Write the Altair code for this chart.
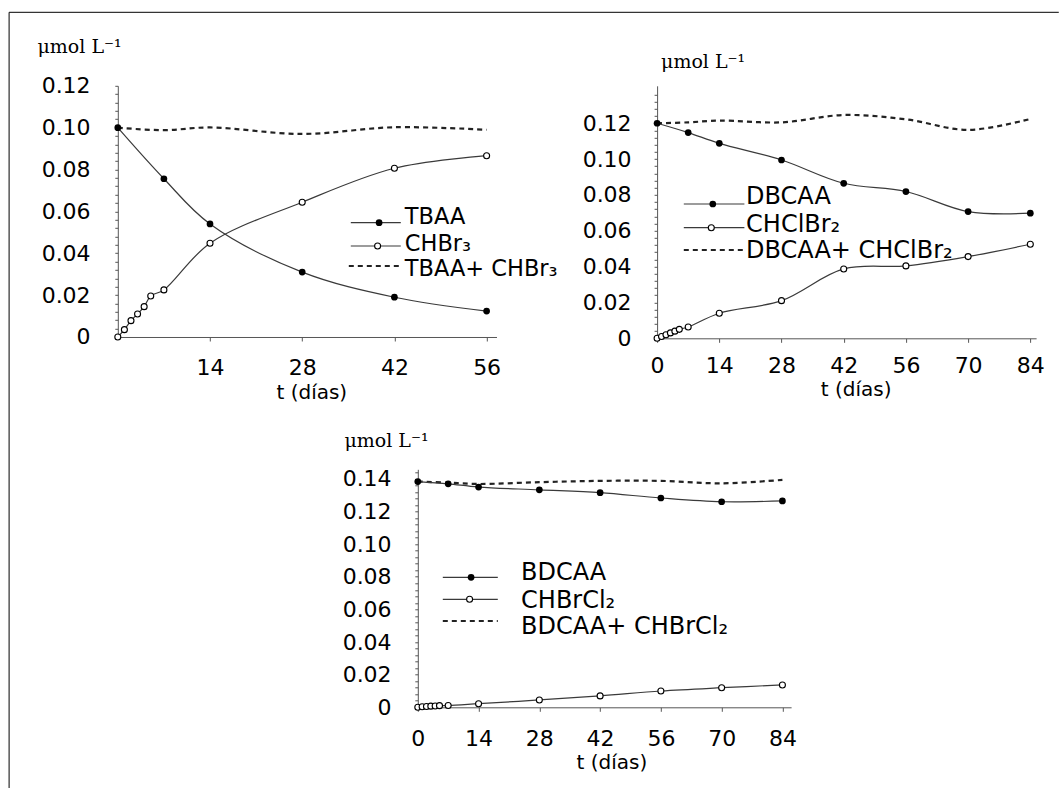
import altair as alt
import pandas as pd

# ---------------- data ----------------
# Panel 1: TBAA / CHBr3
days_tbaa = [0, 7, 14, 28, 42, 56]
tbaa = [0.100, 0.0756, 0.054, 0.031, 0.019, 0.0124]
days_chbr3 = [0, 1, 2, 3, 4, 5, 7, 14, 28, 42, 56]
chbr3 = [0.0, 0.0035, 0.0078, 0.011, 0.0145, 0.0196, 0.0225, 0.0448, 0.0644, 0.0806, 0.0866]
days_sum1 = [0, 7, 14, 28, 42, 56]
sum1 = [0.100, 0.0988, 0.1001, 0.0970, 0.1002, 0.0990]

# Panel 2: DBCAA / CHClBr2
days_dbcaa = [0, 7, 14, 28, 42, 56, 70, 84]
dbcaa = [0.120, 0.1148, 0.1088, 0.0995, 0.0865, 0.0819, 0.0707, 0.0698]
days_chclbr2 = [0, 1, 2, 3, 4, 5, 7, 14, 28, 42, 56, 70, 84]
chclbr2 = [0.0, 0.001, 0.002, 0.003, 0.004, 0.005, 0.0063, 0.014, 0.021, 0.0387, 0.0404, 0.0456, 0.0525]
days_sum2 = [0, 7, 14, 28, 42, 56, 70, 84]
sum2 = [0.120, 0.1205, 0.1215, 0.1205, 0.1246, 0.1222, 0.1163, 0.1224]

# Panel 3: BDCAA / CHBrCl2
days_bdcaa = [0, 7, 14, 28, 42, 56, 70, 84]
bdcaa = [0.1384, 0.137, 0.135, 0.1333, 0.1316, 0.1283, 0.126, 0.1265]
days_chbrcl2 = [0, 1, 2, 3, 4, 5, 7, 14, 28, 42, 56, 70, 84]
chbrcl2 = [0.0, 0.0003, 0.0005, 0.0007, 0.0008, 0.001, 0.0011, 0.0022, 0.0045, 0.007, 0.010, 0.012, 0.0137]
days_sum3 = [0, 7, 14, 28, 42, 56, 70, 84]
sum3 = [0.1384, 0.1377, 0.1369, 0.138, 0.1388, 0.1388, 0.1373, 0.1394]

names1 = ["TBAA", "CHBr\u2083", "TBAA+ CHBr\u2083"]
names2 = ["DBCAA", "CHClBr\u2082", "DBCAA+ CHClBr\u2082"]
names3 = ["BDCAA", "CHBrCl\u2082", "BDCAA+ CHBrCl\u2082"]
xticks1 = [14, 28, 42, 56]
xticks23 = [0, 14, 28, 42, 56, 70, 84]
unit_title = "\u03bcmol L\u207b\u00b9"
x_title = "t (d\u00edas)"

LINE_COLOR = "#3a3a3a"
SANS = "DejaVu Sans"
SERIF = "DejaVu Serif"

LABEL_EXPR = ("abs(datum.value) < 1e-9 ? '0' : "
              "(round(datum.value * 1000) % 20 == 0 ? format(datum.value, '.2f') : '')")

one = pd.DataFrame({"k": [0]})


def panel(d_acid, acid, d_thm, thm, d_sum, summ, names, xdom, ydom, ytick_max, w, h,
          xticks, ypad, xpad, leg, unit_pos, xt_pos, frame=None):
    acid_df = pd.DataFrame({"t": d_acid, "v": acid})
    thm_df = pd.DataFrame({"t": d_thm, "v": thm})
    sum_df = pd.DataFrame({"t": d_sum, "v": summ})
    n = int(ytick_max / 0.004 + 1e-9)
    yticks = [round(i * 0.004, 3) for i in range(n + 1)]

    x = alt.X("t:Q", scale=alt.Scale(domain=xdom, nice=False, zero=False),
              axis=alt.Axis(values=xticks, title=None, grid=False, tickSize=4,
                            labelPadding=xpad, format="d", labelFlush=False,
                            labelOverlap=False))
    y = alt.Y("v:Q", scale=alt.Scale(domain=ydom, nice=False),
              axis=alt.Axis(values=yticks, labelExpr=LABEL_EXPR, title=None,
                            grid=False, tickSize=3, labelPadding=ypad,
                            labelFlush=False, labelOverlap=False))

    sum_line = alt.Chart(sum_df).mark_line(
        color="#222", strokeWidth=2.2, strokeDash=[5, 4], interpolate="catmull-rom"
    ).encode(x=x, y=y)
    acid_line = alt.Chart(acid_df).mark_line(
        color=LINE_COLOR, strokeWidth=1.2, interpolate="catmull-rom"
    ).encode(x=x, y=y)
    thm_line = alt.Chart(thm_df).mark_line(
        color=LINE_COLOR, strokeWidth=1.2, interpolate="catmull-rom"
    ).encode(x=x, y=y)
    acid_pts = alt.Chart(acid_df).mark_point(
        shape="circle", filled=True, color="black", size=45, opacity=1
    ).encode(x=x, y=y)
    thm_pts = alt.Chart(thm_df).mark_point(
        shape="circle", filled=False, fill="white", stroke="black",
        strokeWidth=1.1, size=36, opacity=1, fillOpacity=1
    ).encode(x=x, y=y)

    layers = [sum_line, acid_line, thm_line, acid_pts, thm_pts]

    # legend (drawn inside the plot area)
    x1, x2 = leg["x1"], leg["x2"]
    ly = leg["line_y"]
    ty = leg["text_y"]
    for i in range(3):
        rule_kw = dict(color=LINE_COLOR, strokeWidth=1.2)
        if i == 2:
            rule_kw = dict(color="#222", strokeWidth=2.2, strokeDash=[5, 4])
        layers.append(alt.Chart(one).mark_rule(**rule_kw).encode(
            x=alt.value(x1 if i < 2 else leg["dx1"]), x2=alt.value(x2), y=alt.value(ly[i])))
        layers.append(alt.Chart(one).mark_text(
            align="left", baseline="middle", font=SANS, fontSize=leg["fs"], color="black"
        ).encode(x=alt.value(leg["tx"]), y=alt.value(ty[i]), text=alt.value(names[i])))
    layers.append(alt.Chart(one).mark_point(
        shape="circle", filled=True, color="black", size=45, opacity=1
    ).encode(x=alt.value(leg["mx"]), y=alt.value(ly[0])))
    layers.append(alt.Chart(one).mark_point(
        shape="circle", filled=False, fill="white", stroke="black", strokeWidth=1.1,
        size=36, opacity=1, fillOpacity=1
    ).encode(x=alt.value(leg["mx"] - 1.5), y=alt.value(ly[1])))

    # axis titles
    layers.append(alt.Chart(one).mark_text(
        align="left", baseline="alphabetic", font=SERIF, fontSize=19, color="black"
    ).encode(x=alt.value(unit_pos[0]), y=alt.value(unit_pos[1]), text=alt.value(unit_title)))
    layers.append(alt.Chart(one).mark_text(
        align="center", baseline="middle", font=SANS, fontSize=20, color="black"
    ).encode(x=alt.value(xt_pos[0]), y=alt.value(xt_pos[1]), text=alt.value(x_title)))

    if frame is not None:
        layers.append(alt.Chart(one).mark_rule(color="black", strokeWidth=1).encode(
            x=alt.value(frame[0]), y=alt.value(frame[1]), y2=alt.value(frame[3])))
        layers.append(alt.Chart(one).mark_rule(color="black", strokeWidth=1).encode(
            x=alt.value(frame[0]), x2=alt.value(frame[2]), y=alt.value(frame[1])))

    return alt.layer(*layers).properties(width=w, height=h)


# panel origins on the page: A (117, 85.8), B (656, 85.8), C (416.7, 469.3)
TOP = 85.8
pA = panel(days_tbaa, tbaa, days_chbr3, chbr3, days_sum1, sum1, names1,
           [0, 57.5], [0, 0.12], 0.12, 378.7, 251.2, xticks1, 24.7, 16.5,
           dict(x1=233, dx1=231, x2=283, line_y=[136.9, 160.2, 180.2],
                text_y=[131, 158.4, 183], tx=287, mx=261.3, fs=22.5),
           (-80.3, 53.3 - TOP), (194, 393 - TOP),
           frame=(-108.7, 12.3 - TOP, 1058 - 117, 788 - TOP))
pB = panel(days_dbcaa, dbcaa, days_chclbr2, chclbr2, days_sum2, sum2, names2,
           [0, 85.3], [0, 0.1409], 0.136, 379, 252.5, xticks23, 23, 13.3,
           dict(x1=26.7, dx1=26.7, x2=87.3, line_y=[118.2, 141.9, 164.2],
                text_y=[111.2, 139.2, 164.9], tx=89, mx=55.7, fs=24),
           (4, 68.3 - TOP), (199, 390 - TOP))
pC = panel(days_bdcaa, bdcaa, days_chbrcl2, chbrcl2, days_sum3, sum3, names3,
           [0, 86], [0, 0.1459], 0.144, 373.3, 238, xticks23, 23.7, 17.6,
           dict(x1=25, dx1=25, x2=80, line_y=[108, 130, 151.7],
                text_y=[103.4, 131.4, 158], tx=103.3, mx=53.3, fs=24),
           (-73.4, -22.6), (194.1, 294))

spacer = alt.Chart(one).mark_point(opacity=0).encode(
    x=alt.value(0), y=alt.value(0)).properties(width=299.7, height=10)

top = alt.hconcat(pA, pB, spacing=160.3, bounds="flush")
bottom = alt.hconcat(spacer, pC, spacing=0, bounds="flush")

# nested concat groups count as zero height in flush layout, so spacing is the full offset
chart = alt.vconcat(top, bottom, spacing=469.3 - TOP, bounds="flush").properties(
    padding={"left": 7.8, "top": 11.8, "right": 0, "bottom": 0}
).configure_view(stroke=None).configure_axis(
    labelFont=SANS, labelFontSize=22, labelColor="black",
    domainColor="#555", tickColor="#555", domainWidth=1, tickWidth=1
)

chart.save("out.html", embed_options={"renderer": "svg", "actions": False})
